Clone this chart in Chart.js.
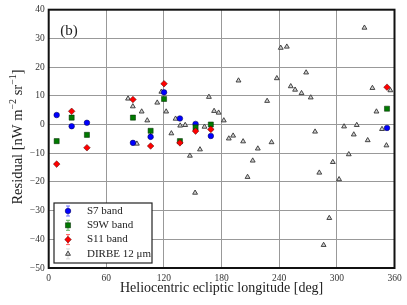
<!DOCTYPE html>
<html>
<head>
<meta charset="utf-8">
<script src="https://cdn.jsdelivr.net/npm/chart.js@4.4.0/dist/chart.umd.min.js"></script>
<style>
  html, body { margin: 0; padding: 0; background: #fff; }
</style>
</head>
<body>
<canvas id="residualChart" width="407" height="305"></canvas>
<script>
// AKARI bands: same longitudes for the three bands
const akariLon = [8.3, 23.9, 39.8, 87.7, 106.1, 120.1, 136.6, 152.9, 168.8, 352.2];
const s7 = [3.3, -0.6, 0.6, -6.4, -4.3, 11.2, 2.1, 0.2, -4.0, -1.2];
const s9w = [-5.8, 2.4, -3.6, 2.4, -2.2, 8.9, -5.8, -1.0, 0.0, 5.5];
const s11 = [-13.8, 4.6, -8.1, 8.7, -7.5, 14.2, -6.4, -2.3, -1.7, 13.0];

// DIRBE 12 um
const dirbeLon = [82.6, 87.6, 91.8, 96.8, 102.6, 106.1, 113.0, 117.3, 122.3, 127.7,
  132.1, 136.9, 142.1, 147.0, 152.4, 157.5, 162.2, 166.8, 172.2, 176.9,
  182.3, 187.5, 192.0, 197.6, 202.4, 207.0, 212.4, 217.7, 227.4, 232.0,
  237.5, 241.6, 247.9, 252.0, 256.5, 263.2, 268.0, 272.8, 277.3, 281.7,
  286.2, 292.1, 295.8, 302.3, 307.5, 312.4, 317.6, 320.7, 328.7, 332.1,
  337.0, 341.2, 347.0, 351.6, 355.7];
const dirbe = [9.0, 6.3, -6.7, 4.5, 1.4, -4.0, 7.6, 11.4, 4.5, -3.1,
  2.0, -0.4, -0.2, -10.9, -23.8, -8.7, -0.8, 9.6, 4.7, 4.1,
  1.4, -4.9, -3.9, 15.3, -5.9, -18.3, -12.6, -8.4, 8.2, -6.2,
  16.1, 26.7, 27.1, 13.3, 12.1, 10.9, 18.1, 9.4, -2.5, -16.8,
  -42.0, -32.6, -13.1, -19.1, -0.7, -10.4, -3.5, -0.2, 33.7, -5.5,
  12.7, 4.5, -1.6, -7.3, 11.9];

const xTicks = [0, 60, 120, 180, 240, 300, 360];
const yTicks = [-50, -40, -30, -20, -10, 0, 10, 20, 30, 40];

const SERIF = '"Liberation Serif", "DejaVu Serif", serif';

function pts(xs, ys) {
  return xs.map((x, i) => ({ x: x, y: ys[i] }));
}

const legendItems = [
  { label: 'S7 band', style: 'circle', bar: '#6f6fff' },
  { label: 'S9W band', style: 'rect', bar: '#60b060' },
  { label: 'S11 band', style: 'rectRot', bar: '#ff6060' },
  { label: 'DIRBE 12 \u03bcm', style: 'triangle', bar: '#d8d8d8' }
];

// frame, panel label, y title with superscripts, legend box
const decorations = {
  id: 'decorations',
  afterDraw(chart) {
    const ctx = chart.ctx;
    const a = chart.chartArea;
    ctx.save();

    ctx.strokeStyle = '#111';
    ctx.lineWidth = 2;
    ctx.strokeRect(a.left, a.top, a.right - a.left, a.bottom - a.top);

    ctx.fillStyle = '#222';
    ctx.font = '15px ' + SERIF;
    ctx.textAlign = 'center';
    ctx.textBaseline = 'middle';
    ctx.fillText('(b)', 69, 31);

    // y axis title
    ctx.translate(16, 137);
    ctx.rotate(-Math.PI / 2);
    const parts = [
      ['Residual [nW m', 0], ['\u22122', 1], [' sr', 0], ['\u22121', 1], [']', 0]
    ];
    let w = 0;
    parts.forEach(p => {
      ctx.font = (p[1] ? '10px ' : '14.5px ') + SERIF;
      w += ctx.measureText(p[0]).width;
    });
    let x = -w / 2;
    ctx.textAlign = 'left';
    ctx.textBaseline = 'alphabetic';
    parts.forEach(p => {
      ctx.font = (p[1] ? '10px ' : '14.5px ') + SERIF;
      ctx.fillText(p[0], x, p[1] ? -0.5 : 6);
      x += ctx.measureText(p[0]).width;
    });
    ctx.setTransform(1, 0, 0, 1, 0, 0);

    // legend
    const bx = 54, by = 203, bw = 98, bh = 60;
    ctx.fillStyle = '#fff';
    ctx.fillRect(bx, by, bw, bh);
    ctx.strokeStyle = '#222';
    ctx.lineWidth = 1.2;
    ctx.strokeRect(bx, by, bw, bh);
    const ds = chart.data.datasets;
    legendItems.forEach((item, i) => {
      const cy = 211 + i * 14.3;
      const cx = 68;
      ctx.strokeStyle = item.bar;
      ctx.lineWidth = 1;
      ctx.beginPath();
      ctx.moveTo(cx, cy - 5); ctx.lineTo(cx, cy + 5);
      ctx.moveTo(cx - 2, cy - 5); ctx.lineTo(cx + 2, cy - 5);
      ctx.moveTo(cx - 2, cy + 5); ctx.lineTo(cx + 2, cy + 5);
      ctx.stroke();
      ctx.fillStyle = ds[i].backgroundColor;
      ctx.strokeStyle = ds[i].borderColor;
      ctx.lineWidth = ds[i].borderWidth;
      Chart.helpers.drawPoint(ctx, { pointStyle: item.style, radius: ds[i].pointRadius, borderWidth: ds[i].borderWidth }, cx, cy);
      ctx.fillStyle = '#222';
      ctx.font = '11px ' + SERIF;
      ctx.textAlign = 'left';
      ctx.textBaseline = 'middle';
      ctx.fillText(item.label, 87, cy);
    });
    ctx.restore();
  }
};

const ctx = document.getElementById('residualChart').getContext('2d');

new Chart(ctx, {
  type: 'scatter',
  data: {
    datasets: [{
      label: 'S7 band',
      data: pts(akariLon, s7),
      pointStyle: 'circle',
      pointRadius: 2.8,
      backgroundColor: '#0000ff',
      borderColor: '#000044',
      borderWidth: 0.5,
      order: 3
    }, {
      label: 'S9W band',
      data: pts(akariLon, s9w),
      pointStyle: 'rect',
      pointRadius: 3.6,
      backgroundColor: '#007a00',
      borderColor: '#002200',
      borderWidth: 0.5,
      order: 2
    }, {
      label: 'S11 band',
      data: pts(akariLon, s11),
      pointStyle: 'rectRot',
      pointRadius: 3.3,
      backgroundColor: '#ff0000',
      borderColor: '#440000',
      borderWidth: 0.5,
      order: 1
    }, {
      label: 'DIRBE 12 \u03bcm',
      data: pts(dirbeLon, dirbe),
      pointStyle: 'triangle',
      pointRadius: 2.8,
      backgroundColor: '#d0d0d0',
      borderColor: '#333333',
      borderWidth: 0.9,
      order: 4
    }]
  },
  options: {
    responsive: false,
    animation: false,
    layout: { padding: { top: 8.7, right: 12.5, left: 0, bottom: 0 } },
    plugins: {
      legend: { display: false },
      tooltip: { enabled: false }
    },
    scales: {
      x: {
        type: 'linear',
        min: 0,
        max: 360,
        afterBuildTicks: s => { s.ticks = xTicks.map(v => ({ value: v })); },
        afterFit: s => { s.height = 37; },
        grid: {
          color: '#999',
          lineWidth: 1,
          borderDash: [1, 2],
          drawTicks: false
        },
        border: { display: false },
        ticks: {
          color: '#333',
          padding: 5,
          maxRotation: 0,
          font: { family: SERIF, size: 9.5 },
          callback: v => String(v)
        },
        title: {
          display: true,
          text: 'Heliocentric ecliptic longitude [deg]',
          color: '#222',
          font: { family: SERIF, size: 14 },
          padding: { top: 2, bottom: 8 }
        }
      },
      y: {
        type: 'linear',
        min: -50,
        max: 40,
        afterBuildTicks: s => { s.ticks = yTicks.map(v => ({ value: v })); },
        afterFit: s => { s.width = 48.7; },
        grid: {
          color: '#999',
          lineWidth: 1,
          borderDash: [1, 2],
          drawTicks: false
        },
        border: { display: false },
        ticks: {
          color: '#333',
          padding: 4,
          font: { family: SERIF, size: 9.5 },
          callback: v => (v < 0 ? '\u2212' + Math.abs(v) : String(v))
        }
      }
    }
  },
  plugins: [decorations]
});
</script>
</body>
</html>
